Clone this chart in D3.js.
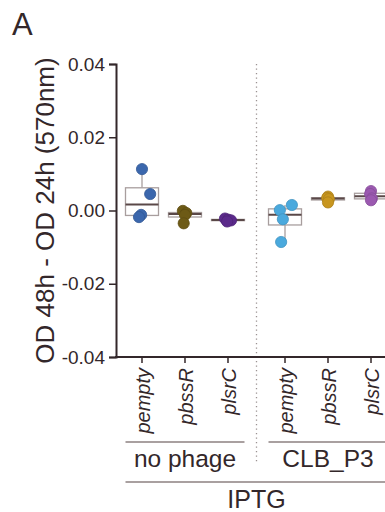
<!DOCTYPE html>
<html>
<head>
<meta charset="utf-8">
<script src="https://cdn.jsdelivr.net/npm/d3@7"></script>
<style>
  html, body { margin: 0; padding: 0; background: #fff; }
  svg { display: block; font-family: "Liberation Sans", Arial, sans-serif; }
</style>
</head>
<body>
<div id="chart"></div>
<script>
// Treatment groups and strains
const groups = ["no phage", "CLB_P3"];
const strains = ["pempty", "pbssR", "plsrC"];
const treatment = "IPTG";
const yTicks = [-0.04, -0.02, 0.00, 0.02, 0.04];

// OD 48h - OD 24h replicates per group / strain
const noPhagePempty = [0.0113, 0.0045, -0.0012, -0.0018];
const noPhagePbssR  = [-0.0001, -0.0007, -0.0012, -0.0035];
const noPhagePlsrC  = [-0.0022, -0.0025, -0.0027, -0.0030];
const clbPempty     = [0.0015, 0.0001, -0.0024, -0.0086];
const clbPbssR      = [0.0038, 0.0034, 0.0031, 0.0022];
const clbPlsrC      = [0.0053, 0.0045, 0.0033, 0.0028];

// horizontal jitter of each replicate, as a fraction of the strain step
const jitterPempty = [0.0, 0.19, -0.02, -0.07];
const jitterPbssR  = [-0.05, 0.03, 0.0, -0.03];
const jitterPlsrC  = [-0.07, 0.0, 0.07, -0.02];
const jitterClbPempty = [0.16, -0.12, -0.05, -0.09];
const jitterClbOther  = [0.0, -0.02, 0.02, 0.0];

const series = [
  { group: "no phage", strain: "pempty", values: noPhagePempty, jitter: jitterPempty, color: "#3b67ad" },
  { group: "no phage", strain: "pbssR",  values: noPhagePbssR,  jitter: jitterPbssR,  color: "#6d5a16" },
  { group: "no phage", strain: "plsrC",  values: noPhagePlsrC,  jitter: jitterPlsrC,  color: "#5b2a8b" },
  { group: "CLB_P3",   strain: "pempty", values: clbPempty,     jitter: jitterClbPempty, color: "#4aa9dd" },
  { group: "CLB_P3",   strain: "pbssR",  values: clbPbssR,      jitter: jitterClbOther,  color: "#c8961f" },
  { group: "CLB_P3",   strain: "plsrC",  values: clbPlsrC,      jitter: jitterClbOther,  color: "#9b59b0" }
];

const W = 385, H = 512;
const ink = "#33272a";
const boxInk = "#a89e9e";
const svg = d3.select("#chart").append("svg").attr("width", W).attr("height", H);

const plotLeft = 116, plotTop = 64, plotBottom = 357;

const y = d3.scaleLinear().domain([-0.04, 0.04]).range([plotBottom, plotTop]);
const xGroup = d3.scaleBand().domain(groups).range([120.5, 392.5]).paddingInner(0.098);
const xStrain = d3.scalePoint().domain(strains).range([0, xGroup.bandwidth()]).padding(0.5);
const xPos = (g, s) => xGroup(g) + xStrain(s);
const step = xStrain.step();
const boxW = 33;

// panel letter
svg.append("text").attr("x", 12).attr("y", 35)
  .attr("font-size", 31).attr("fill", ink).text("A");

// y axis
const yAxis = svg.append("g").attr("transform", `translate(${plotLeft},0)`)
  .call(d3.axisLeft(y).tickValues(yTicks).tickSizeOuter(0).tickSize(7).tickPadding(4)
    .tickFormat(d => d3.format(".2f")(d).replace("\u2212", "-")));
yAxis.select(".domain").attr("stroke", ink).attr("stroke-width", 2);
yAxis.selectAll(".tick line").attr("stroke", ink).attr("stroke-width", 1.5);
yAxis.selectAll(".tick text").attr("font-size", 19).attr("fill", ink)
  .attr("font-family", "Liberation Sans, Arial, sans-serif");

svg.append("text")
  .attr("transform", `translate(54,${(plotTop + plotBottom) / 2}) rotate(-90)`)
  .attr("text-anchor", "middle").attr("font-size", 26).attr("fill", ink)
  .text("OD 48h - OD 24h (570nm)");

// separator between groups
const sepX = (xGroup(groups[0]) + xGroup.bandwidth() + xGroup(groups[1])) / 2;
svg.append("line").attr("x1", sepX).attr("x2", sepX).attr("y1", plotTop).attr("y2", 463)
  .attr("stroke", "#9a9292").attr("stroke-width", 1.3).attr("stroke-dasharray", "1.3,3.2");

// x axis line
svg.append("line").attr("x1", plotLeft - 1).attr("x2", W + 5).attr("y1", plotBottom).attr("y2", plotBottom)
  .attr("stroke", ink).attr("stroke-width", 2);

const cats = [];
groups.forEach(g => strains.forEach(s => cats.push({ g, s })));
const xt = svg.append("g");
xt.selectAll("line.tk").data(cats).join("line").attr("class", "tk")
  .attr("x1", d => xPos(d.g, d.s)).attr("x2", d => xPos(d.g, d.s))
  .attr("y1", plotBottom).attr("y2", plotBottom + 6)
  .attr("stroke", ink).attr("stroke-width", 1.5);
xt.selectAll("text").data(cats).join("text")
  .attr("transform", d => `translate(${xPos(d.g, d.s) + 1},${plotBottom + 11}) rotate(-90)`)
  .attr("text-anchor", "end").attr("dy", "0.35em")
  .attr("font-size", 20).attr("font-style", "italic").attr("fill", ink)
  .text(d => d.s);

// group brackets and labels
groups.forEach(g => {
  const x0 = xGroup(g) + 5, x1 = xGroup(g) + xGroup.bandwidth() - 5;
  svg.append("line").attr("x1", x0).attr("x2", x1).attr("y1", 442).attr("y2", 442)
    .attr("stroke", "#8c8080").attr("stroke-width", 1.5);
  svg.append("text").attr("x", (x0 + x1) / 2).attr("y", 467)
    .attr("text-anchor", "middle").attr("font-size", 24.5).attr("fill", ink).text(g);
});
const t0 = xGroup(groups[0]) + 5, t1 = xGroup(groups[1]) + xGroup.bandwidth() - 5;
svg.append("line").attr("x1", t0).attr("x2", t1).attr("y1", 482).attr("y2", 482)
  .attr("stroke", "#8c8080").attr("stroke-width", 1.5);
svg.append("text").attr("x", (t0 + t1) / 2).attr("y", 508)
  .attr("text-anchor", "middle").attr("font-size", 25).attr("fill", ink).text(treatment);

// box plots with Tukey whiskers, replicates overlaid
series.forEach(sr => {
  const v = sr.values.slice().sort(d3.ascending);
  const q1 = d3.quantile(v, 0.25), med = d3.quantile(v, 0.5), q3 = d3.quantile(v, 0.75);
  const iqr = q3 - q1;
  const lo = d3.min(v.filter(d => d >= q1 - 1.5 * iqr));
  const hi = d3.max(v.filter(d => d <= q3 + 1.5 * iqr));
  const cx = xPos(sr.group, sr.strain);
  const g = svg.append("g");
  g.append("line").attr("x1", cx).attr("x2", cx).attr("y1", y(hi)).attr("y2", y(q3))
    .attr("stroke", boxInk).attr("stroke-width", 1.3);
  g.append("line").attr("x1", cx).attr("x2", cx).attr("y1", y(q1)).attr("y2", y(lo))
    .attr("stroke", boxInk).attr("stroke-width", 1.3);
  g.append("rect").attr("x", cx - boxW / 2).attr("width", boxW)
    .attr("y", y(q3)).attr("height", Math.max(1, y(q1) - y(q3)))
    .attr("fill", "#fff").attr("stroke", boxInk).attr("stroke-width", 1.3);
  g.append("line").attr("x1", cx - boxW / 2).attr("x2", cx + boxW / 2)
    .attr("y1", y(med)).attr("y2", y(med))
    .attr("stroke", "#5a4848").attr("stroke-width", 2);
  g.selectAll("circle").data(sr.values).join("circle")
    .attr("cx", (d, i) => cx + sr.jitter[i] * step)
    .attr("cy", d => y(d)).attr("r", 5.6)
    .attr("fill", sr.color)
    .attr("stroke", d3.color(sr.color).darker(0.4)).attr("stroke-width", 0.8);
});
</script>
</body>
</html>
